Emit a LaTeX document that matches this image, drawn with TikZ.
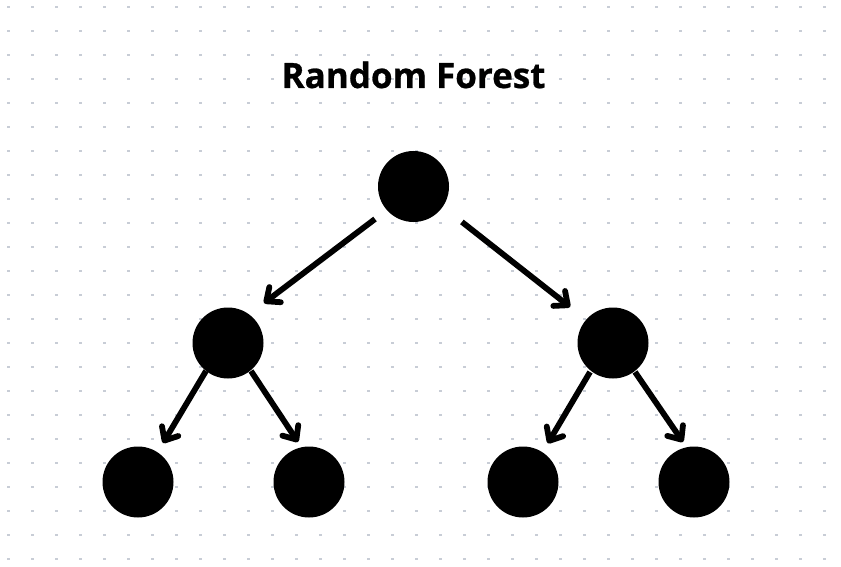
\documentclass[tikz,border=0pt]{standalone}
\usepackage{fontspec}
\setmainfont{Open Sans}
\newfontfamily\titlefont[FakeBold=0.8]{Open Sans Bold}
\usetikzlibrary{arrows.meta,calc}
\definecolor{dotgray}{RGB}{200,205,214}
\tikzset{
  treenode/.style={circle, fill=black, minimum size=71pt, inner sep=0pt},
  link/.style={line width=5.8pt, -{Straight Barb[length=11pt,width=19pt,line cap=round,line join=round]}},
  titletext/.style={font=\titlefont\fontsize{35}{40}\selectfont, inner sep=0pt, anchor=base}
}
\begin{document}
\begin{tikzpicture}[x=1pt,y=1pt]
\useasboundingbox (0,0) rectangle (841,-567);
\fill[white] (0,0) rectangle (841,-567);
\foreach \i in {0,...,34}{
  \foreach \j in {0,...,23}{
    \fill[dotgray] ({8.5+24*\i-1.3},{-7-24*\j-1.3}) rectangle ++(2.6,2.6);
  }
}
\node[titletext] (title) at (413.5,-88) {Random Forest};
\node[treenode] (root) at (413.5,-186.5) {};
\node[treenode] (L) at (228,-343) {};
\node[treenode] (R) at (613,-343) {};
\node[treenode] (LL) at (138,-482) {};
\node[treenode] (LR) at (309,-482) {};
\node[treenode] (RL) at (523,-482) {};
\node[treenode] (RR) at (694,-482) {};
\draw[link] ($(root)+(220.2:50.4)$) -- ($(L)+(48:53.8)$);
\draw[link] ($(root)+(-36.2:60)$) -- ($(R)+(140:56)$);
\draw[link] ($(L)+(231.8:35.6)$) -- ($(LL)+(57.3:46.3)$);
\draw[link] ($(L)+(-50.6:36.2)$) -- ($(LR)+(105.4:41.5)$);
\draw[link] ($(R)+(231.6:37)$) -- ($(RL)+(57.3:46)$);
\draw[link] ($(R)+(-52.8:36.4)$) -- ($(RR)+(105.4:41.5)$);
\end{tikzpicture}
\end{document}
